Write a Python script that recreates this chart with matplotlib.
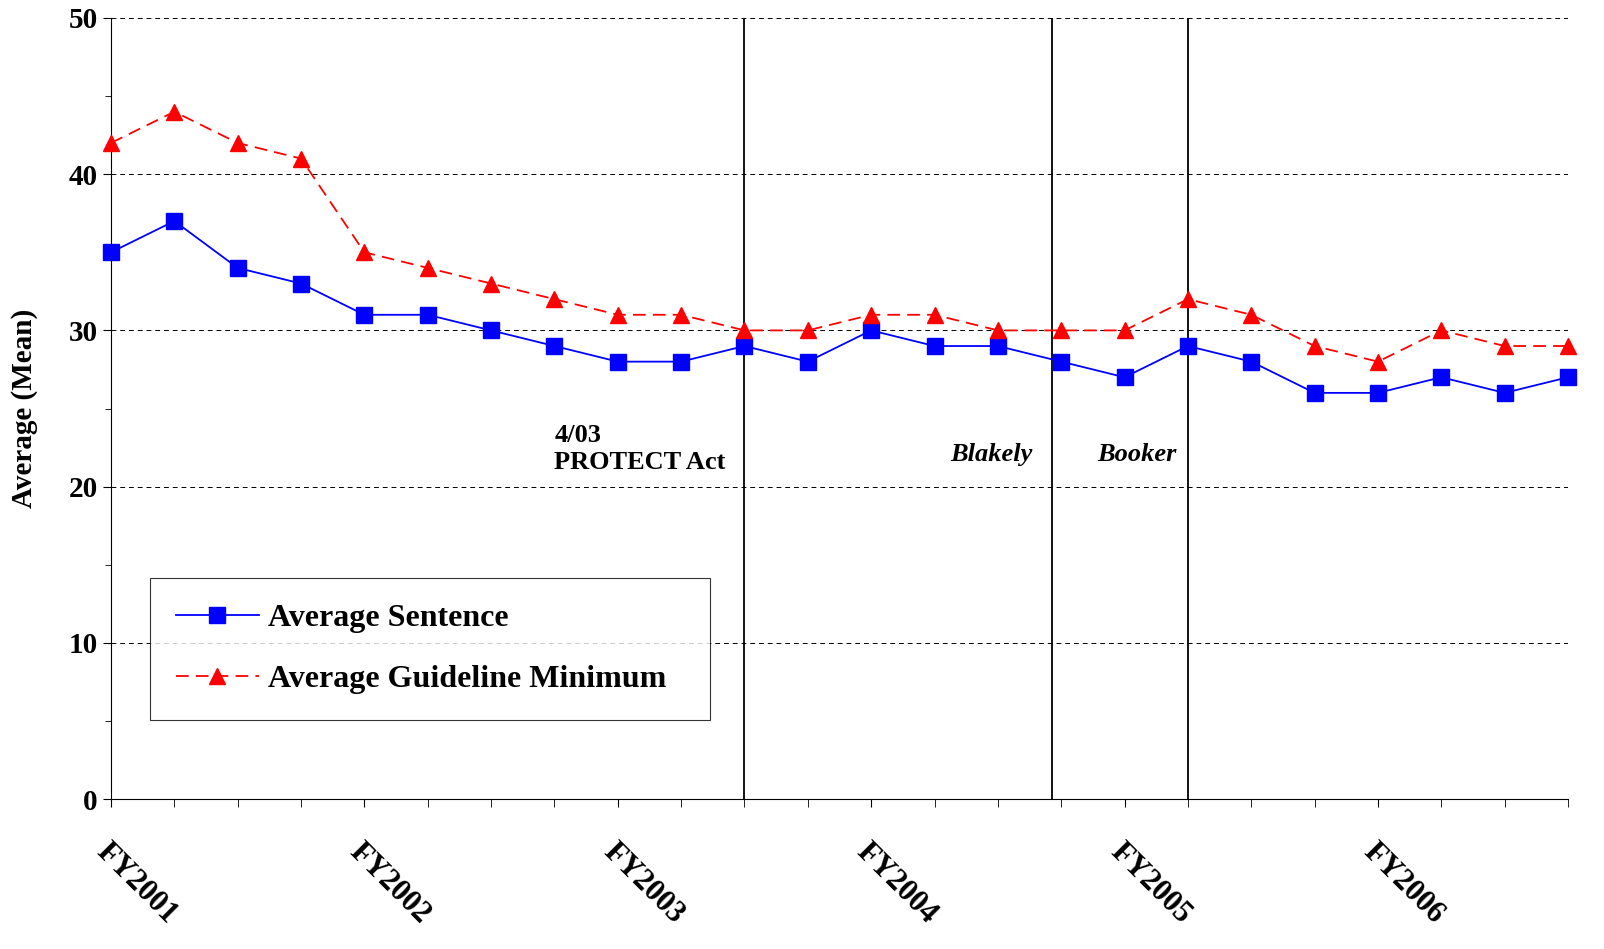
import matplotlib
matplotlib.use("Agg")
import matplotlib.pyplot as plt
from matplotlib.ticker import MultipleLocator

plt.rcParams['font.family'] = ['Liberation Serif']
sentence = [35,37,34,33,31,31,30,29,28,28,29,28,30,29,29,28,27,29,28,26,26,27,26,27]
guideline = [42,44,42,41,35,34,33,32,31,31,30,30,31,31,30,30,30,32,31,29,28,30,29,29]
year_labels = ["FY2001","FY2002","FY2003","FY2004","FY2005","FY2006"]
events = [10.0, 14.85, 17.0]

fig = plt.figure(figsize=(16.04, 9.49), dpi=100)
ax = fig.add_axes([111/1604, 1-799/949, (1568-111)/1604, (799-18)/949])
x = list(range(len(sentence)))
ax.plot(x, sentence, color='#0000ff', marker='s', markersize=11, lw=1.3, label='Average Sentence', clip_on=False, zorder=3)
ax.plot(x, guideline, color='#ff0000', marker='^', markersize=11, lw=1.3, dashes=(7,4), label='Average Guideline Minimum', clip_on=False, zorder=3)
for e in events:
    ax.axvline(e, color='black', lw=1.3)
ax.set_xlim(0, 23)
ax.set_ylim(0, 50)
ax.yaxis.set_major_locator(MultipleLocator(10))
ax.yaxis.set_minor_locator(MultipleLocator(5))
ax.yaxis.grid(True, which='major', color='black', ls=(0,(5,4)), lw=0.7)
ax.set_xticks(x, minor=True)
ax.set_xticks([0,4,8,12,16,20])
ax.set_xticklabels(year_labels, rotation=-45, ha='left', va='top', fontsize=22, fontweight='bold', rotation_mode='anchor')
ax.tick_params(axis='x', which='major', length=6, pad=22)
ax.tick_params(axis='x', which='minor', length=6)
ax.tick_params(axis='y', which='major', length=6, labelsize=21)
ax.tick_params(axis='y', which='minor', length=4)
for t in ax.get_yticklabels():
    t.set_fontweight('bold')
for s in ['top','right']:
    ax.spines[s].set_visible(False)
ax.set_ylabel('Average (Mean)', fontsize=21, fontweight='bold', labelpad=22)
ax.text(7.0, 20.8, "4/03\nPROTECT Act", fontsize=19, fontweight='bold', ha='left', va='bottom', linespacing=1.25)
ax.text(13.9, 21.3, "Blakely", fontsize=19, fontweight='bold', style='italic', ha='center', va='bottom')
ax.text(16.2, 21.3, "Booker", fontsize=19, fontweight='bold', style='italic', ha='center', va='bottom')
leg = ax.legend(loc='lower left', bbox_to_anchor=((150-111)/1457, (799-720)/781, (710-150)/1457, (720-572)/781),
                mode='expand', prop={'size':23,'weight':'bold'}, frameon=True, fancybox=False,
                edgecolor='black', handlelength=2.6, handletextpad=0.3, labelspacing=1.0, borderpad=0.8,
                borderaxespad=0)
leg._legend_box.align = 'left'
leg.get_frame().set_linewidth(0.8)
leg._legend_handle_box.sep = 0
for h in leg._legend_handle_box.get_children():
    pass
leg.set_bbox_to_anchor(((150-111+18)/1457*1457 and (150-111)/1457, (799-720)/781, (710-150)/1457, (720-572)/781), transform=ax.transAxes)
fig.savefig('out.png', dpi=100)
